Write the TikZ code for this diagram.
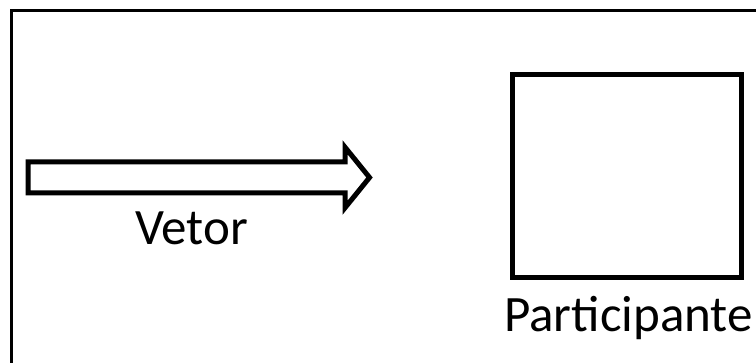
\documentclass[tikz,border=0pt]{standalone}
\usepackage{fontspec}
\setmainfont{Carlito}
\usetikzlibrary{shapes.arrows,positioning}

\begin{document}
\begin{tikzpicture} [
      x = 1pt, y = -1pt,
      frame/.style = { line width = 3pt },
      vetorarrow/.style = { draw, line width = 5pt, single arrow, single arrow tip angle = 102,
        single arrow head extend = 14.5pt, minimum height = 341.5pt,
        inner sep = 0, outer sep = 0 },
      participantbox/.style = { draw, line width = 5pt, rectangle, minimum width = 229pt,
        minimum height = 203pt, inner sep = 0, outer sep = 0 },
      label/.style = { font = \fontsize{51}{60}\selectfont, anchor = base, inner sep = 0 }
      ]

      \clip (0,0) rectangle (756,363);
      \draw [frame] (11,380) |- (780,10.5);

      \node [vetorarrow] (vetor) at (192.5,177.5) {\rule{0pt}{26pt}};
      \node [label] (vetorlabel) at (191.5,245) {Vetor};

      \node [participantbox] (participante) at (627,176.5) {};
      \node [label] (participantelabel) at (628.5,332) {Participante};
    \end{tikzpicture}
\end{document}
